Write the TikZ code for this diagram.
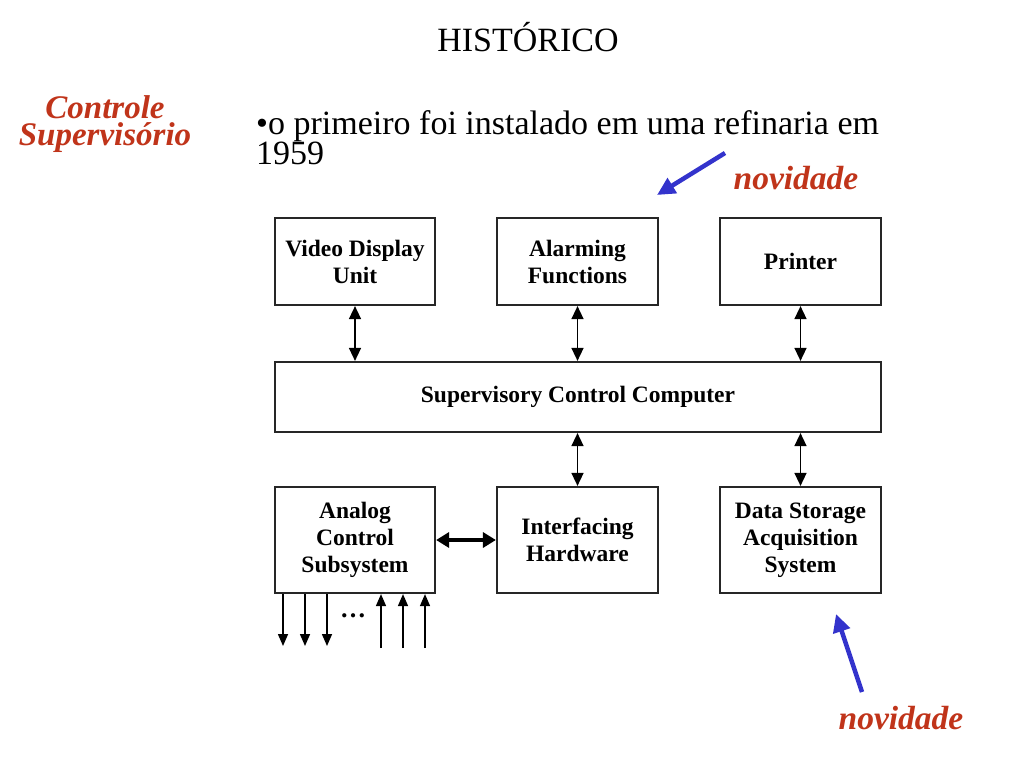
\documentclass[tikz,border=0pt]{standalone}
\usepackage{fontspec}
\setmainfont{Liberation Serif}
\usetikzlibrary{arrows.meta}
\definecolor{rust}{HTML}{C0341A}
\definecolor{arrblue}{HTML}{3333CC}
\begin{document}
\begin{tikzpicture}[x=1pt,y=-1pt,
  blk/.style={draw=black!85,line width=2.2pt,align=center,font=\fontsize{23.5}{27}\selectfont\bfseries},
  link/.style={{Triangle[length=13pt,width=12pt]}-{Triangle[length=13pt,width=12pt]},line width=1.5pt},
  io/.style={-{Triangle[length=12pt,width=10pt]},line width=1.5pt},
  nov/.style={text=rust,font=\fontsize{33.5}{30}\selectfont\bfseries\itshape},
  barr/.style={-{Triangle[length=18pt,width=17pt]},draw=arrblue,line width=4.5pt}]
\useasboundingbox (0,0) rectangle (1024,768);
\node (title) at (528,37) {\fontsize{34}{30}\selectfont HISTÓRICO};
\node[text=rust,align=center,inner sep=0pt,font=\fontsize{33}{27.5}\selectfont\bfseries\itshape] (cs) at (105,124) {Controle\\Supervisório};
\node[anchor=base west,align=left,inner sep=0pt,font=\fontsize{34}{30}\selectfont] (bul) at (256,164) {•o primeiro foi instalado em uma refinaria em\\1959};
\node[nov] (n1) at (796,178) {novidade};
\node[nov] (n2) at (901,718) {novidade};
\coordinate (a1s) at (725,153);
\coordinate (a1e) at (657,195);
\coordinate (a2s) at (862,692);
\coordinate (a2e) at (836,614);
\draw[barr] (a1s) -- (a1e);
\draw[barr] (a2s) -- (a2e);

\node[blk,minimum width=160pt,minimum height=87pt] (vdu) at (355,261.5) {Video Display\\Unit};
\node[blk,minimum width=161pt,minimum height=87pt] (alarm) at (577.5,261.5) {Alarming\\Functions};
\node[blk,minimum width=161pt,minimum height=87pt] (prn) at (800.5,261.5) {Printer};
\node[blk,minimum width=606pt,minimum height=70pt] (scc) at (578,397) {Supervisory Control Computer};
\node[blk,minimum width=160pt,minimum height=106pt] (acs) at (355,540) {Analog\\Control\\Subsystem};
\node[blk,minimum width=161pt,minimum height=106pt] (ih) at (577.5,540) {Interfacing\\Hardware};
\node[blk,minimum width=161pt,minimum height=106pt] (ds) at (800.5,540) {Data Storage\\Acquisition\\System};

\draw[link] (vdu.south) -- (vdu.south |- scc.north);
\draw[link] (alarm.south) -- (alarm.south |- scc.north);
\draw[link] (prn.south) -- (prn.south |- scc.north);
\draw[link] (ih.north) -- (ih.north |- scc.south);
\draw[link] (ds.north) -- (ds.north |- scc.south);
\draw[{Triangle[length=13pt,width=15pt]}-{Triangle[length=13pt,width=15pt]},line width=4pt] (acs.east) -- (ih.west);

\foreach \x/\n in {283/d1,305/d2,327/d3}{
  \coordinate (\n) at (\x,646);
  \draw[io] (acs.south -| \n) -- (\n);
}
\foreach \x/\n in {381/u1,403/u2,425/u3}{
  \coordinate (\n) at (\x,648);
  \draw[io] (\n) -- (acs.south -| \n);
}
\node[font=\fontsize{26}{26}\selectfont\bfseries] (dots) at (353,616) {\dots};
\end{tikzpicture}
\end{document}
